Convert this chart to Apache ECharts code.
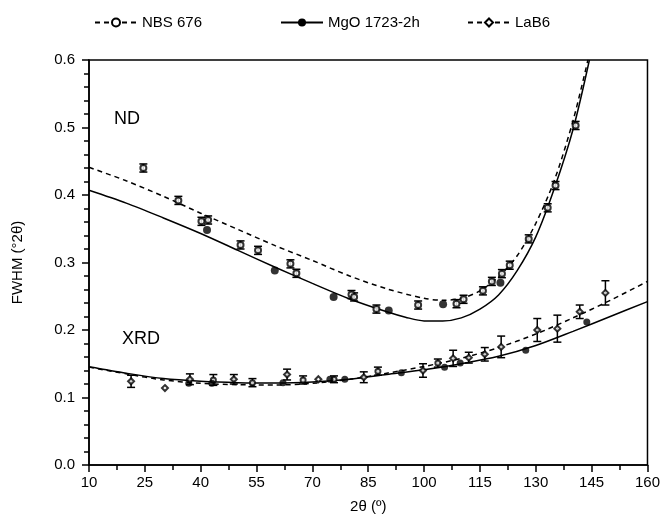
<!DOCTYPE html>
<html>
<head>
<meta charset="utf-8">
<script src="https://cdn.jsdelivr.net/npm/echarts@6/dist/echarts.min.js"></script>
<style>html,body{margin:0;padding:0;background:#fff}#c{width:663px;height:529px}</style>
</head>
<body>
<div id="c"></div>
<script>
// ---- data ----
const xTicks = [10, 25, 40, 55, 70, 85, 100, 115, 130, 145, 160];
const yTicks = [0.0, 0.1, 0.2, 0.3, 0.4, 0.5, 0.6];

// ND, NBS 676 (open circles)
const ndNbsX = [24.6, 34.0, 40.2, 42.0, 50.7, 55.4, 64.1, 65.7, 80.5, 81.2, 87.2, 98.4, 108.7, 110.6, 115.8, 118.2, 120.9, 123.0, 128.1, 133.2, 135.3, 140.7];
const ndNbsY = [0.440, 0.392, 0.361, 0.363, 0.326, 0.318, 0.298, 0.284, 0.2525, 0.249, 0.231, 0.237, 0.239, 0.2455, 0.258, 0.272, 0.2835, 0.296, 0.335, 0.381, 0.414, 0.503];
const ndNbsErr = [0.006, 0.006, 0.006, 0.006, 0.006, 0.006, 0.006, 0.006, 0.006, 0.006, 0.006, 0.006, 0.006, 0.006, 0.006, 0.006, 0.006, 0.006, 0.006, 0.006, 0.006, 0.006];

// ND, MgO 1723-2h (filled circles)
const ndMgoX = [41.7, 59.9, 75.7, 90.5, 105.1, 120.5];
const ndMgoY = [0.348, 0.288, 0.249, 0.229, 0.238, 0.270];

// XRD, LaB6 (open diamonds)
const xrdLabX = [21.3, 30.4, 37.1, 48.9, 63.2, 71.6, 83.8, 99.7, 107.8, 112.0, 116.3, 120.7, 130.4, 135.8, 141.8, 148.7];
const xrdLabY = [0.124, 0.114, 0.127, 0.127, 0.134, 0.127, 0.130, 0.140, 0.158, 0.159, 0.164, 0.175, 0.200, 0.202, 0.227, 0.255];
const xrdLabErr = [0.009, 0, 0.008, 0.007, 0.008, 0, 0.008, 0.010, 0.012, 0.008, 0.010, 0.016, 0.017, 0.020, 0.010, 0.018];

// XRD, NBS 676
const xrdNbsX = [43.4, 53.9, 67.5, 75.8, 87.6, 103.7];
const xrdNbsY = [0.126, 0.122, 0.126, 0.127, 0.139, 0.151];
const xrdNbsErr = [0.008, 0.006, 0.006, 0.005, 0.006, 0.006];

// XRD, MgO 1723-2h
const xrdMgoX = [36.8, 43.0, 62.1, 74.7, 78.7, 93.9, 105.5, 109.7, 127.3, 143.7];
const xrdMgoY = [0.121, 0.121, 0.122, 0.127, 0.127, 0.1365, 0.145, 0.151, 0.170, 0.212];

// fitted curves
const ndNbsFitX = [10, 20, 30, 40, 50, 60, 70, 80, 90, 100, 105, 110, 115, 120, 125, 130, 135, 140, 144];
const ndNbsFitY = [0.441, 0.421, 0.398, 0.373, 0.349, 0.325, 0.303, 0.280, 0.261, 0.247, 0.244, 0.247, 0.258, 0.279, 0.310, 0.358, 0.422, 0.510, 0.600];
const ndMgoFitX = [10, 20, 30, 40, 50, 60, 70, 80, 90, 95, 100, 105, 110, 115, 120, 125, 130, 135, 140, 144.4];
const ndMgoFitY = [0.407, 0.388, 0.366, 0.343, 0.318, 0.293, 0.269, 0.246, 0.227, 0.219, 0.2135, 0.2135, 0.218, 0.231, 0.252, 0.288, 0.338, 0.410, 0.497, 0.600];
const xrdMgoFitX = [10, 20, 30, 40, 50, 60, 70, 80, 90, 100, 110, 120, 130, 140, 150, 160];
const xrdMgoFitY = [0.1455, 0.136, 0.128, 0.124, 0.122, 0.1215, 0.123, 0.127, 0.134, 0.141, 0.150, 0.161, 0.177, 0.198, 0.220, 0.242];
const xrdLabFitX = [10, 20, 30, 40, 50, 60, 70, 80, 90, 100, 110, 120, 130, 140, 150, 160];
const xrdLabFitY = [0.145, 0.135, 0.126, 0.121, 0.119, 0.1185, 0.121, 0.127, 0.136, 0.146, 0.158, 0.174, 0.194, 0.218, 0.244, 0.272];

const legendNames = ['NBS 676', 'MgO 1723-2h', 'LaB6'];
// ---------------------------------------

const FONT = '"Liberation Sans", Arial, sans-serif';
const zip = (xs, ys) => xs.map((x, i) => [x, ys[i]]);
const errData = (xs, ys, es) => xs.map((x, i) => [x, ys[i] - es[i], ys[i] + es[i], es[i]]).filter(d => d[3] > 0);

function errRender(params, api) {
  const x = api.value(0);
  const p1 = api.coord([x, api.value(1)]);
  const p2 = api.coord([x, api.value(2)]);
  const w = 4;
  const st = { stroke: '#000', lineWidth: 1.5 };
  return {
    type: 'group',
    children: [
      { type: 'line', shape: { x1: p1[0], y1: p1[1], x2: p2[0], y2: p2[1] }, style: st },
      { type: 'line', shape: { x1: p1[0] - w, y1: p1[1], x2: p1[0] + w, y2: p1[1] }, style: st },
      { type: 'line', shape: { x1: p2[0] - w, y1: p2[1], x2: p2[0] + w, y2: p2[1] }, style: st }
    ]
  };
}

const dashed = [5, 4];
const chart = echarts.init(document.getElementById('c'), null, { renderer: 'canvas' });
const legendBase = {
  top: 10, itemWidth: 42, itemHeight: 10, itemGap: 6,
  textStyle: { fontFamily: FONT, fontSize: 15, color: '#000' },
  selectedMode: false
};
const openStyle = { color: '#000', borderColor: '#000', borderWidth: 1.5 };
chart.setOption({
  animation: false,
  backgroundColor: '#fff',
  legend: [
    Object.assign({}, legendBase, { left: 89, data: [legendNames[0]] }),
    Object.assign({}, legendBase, { left: 275, data: [legendNames[1]] }),
    Object.assign({}, legendBase, { left: 462, data: [legendNames[2]] })
  ],
  grid: { left: 89, right: 15, top: 60, bottom: 64, show: true, borderColor: '#000', borderWidth: 1.5, backgroundColor: 'transparent' },
  xAxis: {
    type: 'value', min: xTicks[0], max: xTicks[xTicks.length - 1], interval: xTicks[1] - xTicks[0],
    name: '2θ (º)', nameLocation: 'middle', nameGap: 34,
    nameTextStyle: { fontFamily: FONT, fontSize: 15, color: '#000' },
    axisLine: { lineStyle: { color: '#000', width: 1.5 } },
    axisTick: { inside: false, length: 7, lineStyle: { color: '#000', width: 1.5 } },
    minorTick: { show: true, splitNumber: 2, length: 5, lineStyle: { color: '#000', width: 1.5 } },
    splitLine: { show: false },
    axisLabel: { fontFamily: FONT, fontSize: 15, color: '#000', margin: 10 }
  },
  yAxis: {
    type: 'value', min: yTicks[0], max: yTicks[yTicks.length - 1], interval: 0.1,
    name: 'FWHM (°2θ)', nameLocation: 'middle', nameGap: 64, nameRotate: 90,
    nameTextStyle: { fontFamily: FONT, fontSize: 15, color: '#000' },
    axisLine: { lineStyle: { color: '#000', width: 1.5 } },
    axisTick: { inside: false, length: 7, lineStyle: { color: '#000', width: 1.5 } },
    minorTick: { show: true, splitNumber: 5, length: 5, lineStyle: { color: '#000', width: 1.5 } },
    splitLine: { show: false },
    axisLabel: { fontFamily: FONT, fontSize: 15, color: '#000', margin: 14, formatter: v => v.toFixed(1) }
  },
  graphic: [
    { type: 'text', left: 114, top: 110, style: { text: 'ND', font: '18px ' + FONT, fill: '#000' } },
    { type: 'text', left: 122, top: 330, style: { text: 'XRD', font: '18px ' + FONT, fill: '#000' } }
  ],
  series: [
    { name: legendNames[0], type: 'line', data: zip(ndNbsFitX, ndNbsFitY), smooth: 0.3, showSymbol: false, symbol: 'emptyCircle', symbolSize: 8,
      lineStyle: { color: '#000', width: 1.5, type: dashed }, itemStyle: openStyle, clip: true, z: 3 },
    { name: legendNames[1], type: 'line', data: zip(ndMgoFitX, ndMgoFitY), smooth: 0.3, showSymbol: false, symbol: 'circle', symbolSize: 9,
      lineStyle: { color: '#000', width: 1.5 }, itemStyle: { color: '#000' }, clip: true, z: 3 },
    { name: legendNames[2], type: 'line', data: zip(xrdLabFitX, xrdLabFitY), smooth: 0.3, showSymbol: false, symbol: 'emptyDiamond', symbolSize: 8,
      lineStyle: { color: '#000', width: 1.5, type: dashed }, itemStyle: openStyle, clip: true, z: 3 },
    { name: legendNames[1], type: 'line', data: zip(xrdMgoFitX, xrdMgoFitY), smooth: 0.3, showSymbol: false, symbol: 'none',
      lineStyle: { color: '#000', width: 1.5 }, clip: true, z: 3 },

    { name: legendNames[0], type: 'custom', renderItem: errRender, data: errData(ndNbsX, ndNbsY, ndNbsErr), encode: { x: 0, y: [1, 2] }, z: 4 },
    { name: legendNames[0], type: 'custom', renderItem: errRender, data: errData(xrdNbsX, xrdNbsY, xrdNbsErr), encode: { x: 0, y: [1, 2] }, z: 4 },
    { name: legendNames[2], type: 'custom', renderItem: errRender, data: errData(xrdLabX, xrdLabY, xrdLabErr), encode: { x: 0, y: [1, 2] }, z: 4 },

    { name: legendNames[0], type: 'scatter', data: zip(ndNbsX, ndNbsY), symbol: 'emptyCircle', symbolSize: 6,
      itemStyle: openStyle, z: 5 },
    { name: legendNames[0], type: 'scatter', data: zip(xrdNbsX, xrdNbsY), symbol: 'emptyCircle', symbolSize: 5,
      itemStyle: openStyle, z: 5 },
    { name: legendNames[1], type: 'scatter', data: zip(ndMgoX, ndMgoY), symbol: 'circle', symbolSize: 8,
      itemStyle: { color: '#000' }, z: 5 },
    { name: legendNames[1], type: 'scatter', data: zip(xrdMgoX, xrdMgoY), symbol: 'circle', symbolSize: 7,
      itemStyle: { color: '#000' }, z: 5 },
    { name: legendNames[2], type: 'scatter', data: zip(xrdLabX, xrdLabY), symbol: 'emptyDiamond', symbolSize: 6,
      itemStyle: { color: '#000', borderColor: '#000', borderWidth: 1.2 }, z: 5 }
  ]
});
</script>
</body>
</html>
